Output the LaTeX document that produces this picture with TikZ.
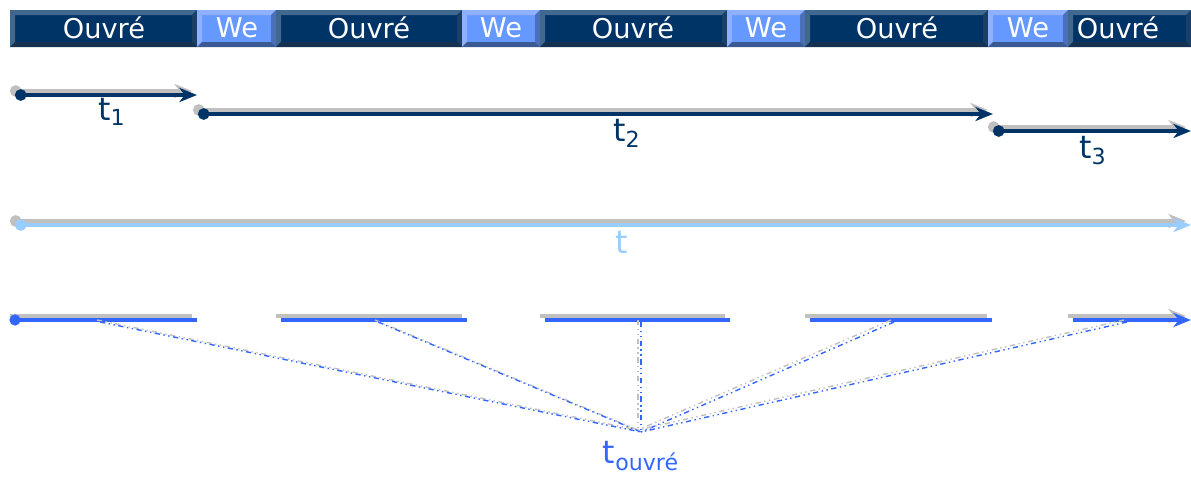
\documentclass[tikz,border=0pt]{standalone}
\usepackage{fontspec}
\setmainfont{DejaVu Sans}
\usetikzlibrary{arrows.meta}

\definecolor{navy}{HTML}{003366}
\definecolor{navylight}{HTML}{41698F}
\definecolor{navydark}{HTML}{1C3F66}
\definecolor{weblue}{HTML}{6699FF}
\definecolor{welight}{HTML}{8EB0FF}
\definecolor{wedark}{HTML}{4A70B8}
\definecolor{skyblue}{HTML}{99CCFF}
\definecolor{ouvblue}{HTML}{3366FF}
\definecolor{greyshadow}{HTML}{C0C0C0}

% bevelled day box: name, left, right, fill, light edge, dark edge, text x, text
\newcommand{\daybox}[8]{%
  \fill[#4] (#2,10) rectangle (#3,47);
  \fill[#5] (#2,10) -- (#3,10) -- ({#3-5},15) -- ({#2+5},15) -- cycle;
  \fill[#5] (#2,10) -- ({#2+5},15) -- ({#2+5},42) -- (#2,47) -- cycle;
  \fill[#6] (#3,10) -- (#3,47) -- ({#3-5},42) -- ({#3-5},15) -- cycle;
  \fill[#6!80!black] (#2,47) -- (#3,47) -- ({#3-5},42) -- ({#2+5},42) -- cycle;
  \node[daytext] (#1) at (#7,28) {#8};
}

\begin{document}
\begin{tikzpicture}[x=0.02cm, y=-0.02cm,
    daytext/.style={text=white, font=\fontsize{15.5}{15.5}\selectfont, inner sep=0pt},
    lbl/.style={font=\fontsize{18}{18}\selectfont, inner sep=0pt},
    span/.style={line width=2.2pt, {Circle[length=6.5pt]}-{Stealth[length=10pt, width=8pt, inset=3pt]}},
    seg/.style={line width=2.2pt},
    spoke/.style={line width=0.8pt, dash dot dot}]
    \useasboundingbox (0,0) rectangle (1191,477);

    % Week strip
    \daybox{o1}{10}{197}{navy}{navylight}{navydark}{104}{Ouvré}
    \daybox{w1}{197}{276}{weblue}{welight}{wedark}{237}{We}
    \daybox{o2}{276}{462}{navy}{navylight}{navydark}{369}{Ouvré}
    \daybox{w2}{462}{540}{weblue}{welight}{wedark}{501}{We}
    \daybox{o3}{540}{727}{navy}{navylight}{navydark}{633}{Ouvré}
    \daybox{w3}{727}{805}{weblue}{welight}{wedark}{766}{We}
    \daybox{o4}{805}{988}{navy}{navylight}{navydark}{897}{Ouvré}
    \daybox{w4}{988}{1068}{weblue}{welight}{wedark}{1028}{We}
    \daybox{o5}{1068}{1191}{navy}{navylight}{navydark}{1118}{Ouvré}

    % Spans t1, t2, t3
    \coordinate (a0) at (15,95);   \coordinate (a1) at (197,95);
    \coordinate (b0) at (198,114); \coordinate (b1) at (993,114);
    \coordinate (c0) at (993,131); \coordinate (c1) at (1191,131);
    \foreach \s/\e in {a0/a1, b0/b1, c0/c1} {
        \draw[span, greyshadow] ([shift={(-5,-4)}]\s) -- ([shift={(-5,-4)}]\e);
        \draw[span, navy] (\s) -- (\e);
    }
    \node[lbl, text=navy] (t1) at (112,112) {t\textsubscript{1}};
    \node[lbl, text=navy] (t2) at (627,133) {t\textsubscript{2}};
    \node[lbl, text=navy] (t3) at (1093,151) {t\textsubscript{3}};

    % Whole span t
    \coordinate (d0) at (15,225); \coordinate (d1) at (1191,225);
    \draw[span, greyshadow] ([shift={(-5,-4)}]d0) -- ([shift={(-5,-4)}]d1);
    \draw[span, skyblue] (d0) -- (d1);
    \node[lbl, text=skyblue] (t) at (622,242) {t};

    % Working-day pieces
    \coordinate (p1) at (15,320);   \coordinate (q1) at (197,320);
    \coordinate (p2) at (281,320);  \coordinate (q2) at (467,320);
    \coordinate (p3) at (545,320);  \coordinate (q3) at (730,320);
    \coordinate (p4) at (810,320);  \coordinate (q4) at (992,320);
    \foreach \i in {1,...,4} {
        \draw[seg, greyshadow] ([shift={(-5,-4)}]p\i) -- ([shift={(-5,-4)}]q\i);
        \draw[seg, ouvblue] (p\i) -- (q\i);
    }
    \fill[ouvblue] (p1) circle (3.2pt);
    \coordinate (p5) at (1073,320); \coordinate (q5) at (1191,320);
    \draw[seg, greyshadow, -{Stealth[length=10pt, width=8pt, inset=3pt]}]
        ([shift={(-5,-4)}]p5) -- ([shift={(-5,-4)}]q5);
    \draw[seg, ouvblue, -{Stealth[length=10pt, width=8pt, inset=3pt]}] (p5) -- (q5);

    % Spokes to the sum
    \coordinate (apex) at (641,432);
    \node[lbl, text=ouvblue] (tw) at (641,456) {t\textsubscript{ouvré}};
    \foreach \x in {100,378,641,894,1127} {
        \draw[spoke, greyshadow] (\x-3,320) -- ([shift={(-3,-2)}]apex);
        \draw[spoke, ouvblue] (\x,322) -- (apex);
    }
\end{tikzpicture}
\end{document}
